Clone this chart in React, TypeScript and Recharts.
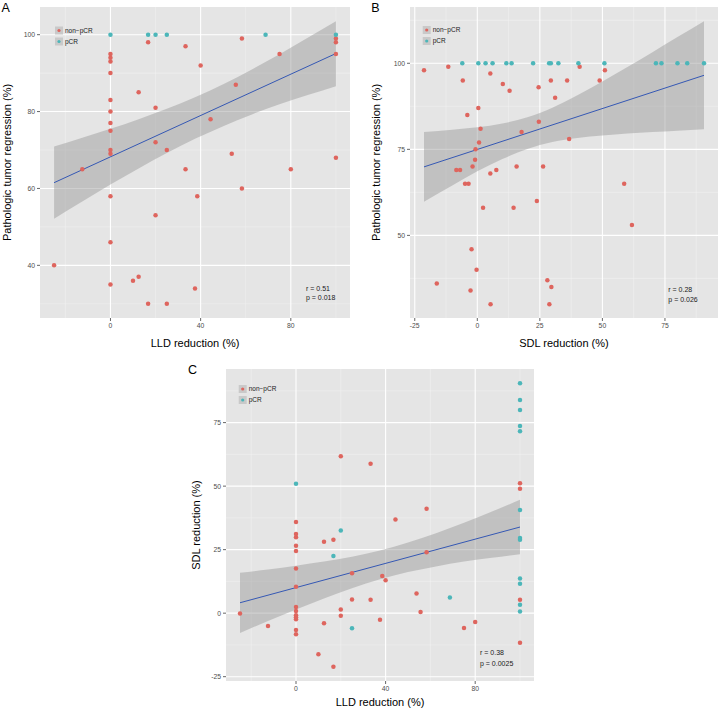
import React from 'react';
import { ComposedChart, XAxis, YAxis, CartesianGrid, Scatter, Line, Area, Customized } from 'recharts';

const FONT = '"Liberation Sans", Arial, Helvetica, sans-serif';
const RED = '#DE655E';
const TEAL = '#4CB6B9';
const BG = '#E5E5E5';

type Pt = { x: number; y: number };

// ---------- Panel A: LLD reduction vs pathologic tumor regression ----------
const aNonPCR: Pt[] = [
  { x: 16.7, y: 98 }, { x: 33.3, y: 97 }, { x: 58.3, y: 99 }, { x: 100, y: 99 }, { x: 100, y: 98 },
  { x: 75, y: 95 }, { x: 100, y: 95 },
  { x: 0, y: 95 }, { x: 0, y: 94 }, { x: 0, y: 93 }, { x: 0, y: 90 }, { x: 0, y: 83 }, { x: 0, y: 80 },
  { x: 0, y: 77 }, { x: 0, y: 75 }, { x: 0, y: 70 }, { x: 0, y: 69 },
  { x: 40, y: 92 }, { x: 12.5, y: 85 }, { x: 55.6, y: 87 }, { x: 20, y: 81 }, { x: 44.4, y: 78 },
  { x: 20, y: 72 }, { x: 25, y: 70 }, { x: 53.8, y: 69 }, { x: 100, y: 68 }, { x: -12.5, y: 65 },
  { x: 33.3, y: 65 }, { x: 80, y: 65 },
  { x: 58.3, y: 60 }, { x: 0, y: 58 }, { x: 38.5, y: 58 }, { x: 20, y: 53 }, { x: 0, y: 46 },
  { x: -25, y: 40 }, { x: 0, y: 35 }, { x: 10, y: 36 }, { x: 12.5, y: 37 }, { x: 37.5, y: 34 },
  { x: 16.7, y: 30 }, { x: 25, y: 30 },
];
const aPCR: Pt[] = [
  { x: 0, y: 100 }, { x: 16.7, y: 100 }, { x: 20, y: 100 }, { x: 25, y: 100 }, { x: 68.8, y: 100 }, { x: 100, y: 100 },
];
const aBandX = [-25, -12.5, 0, 12.5, 25, 37.5, 50, 62.5, 75, 87.5, 100];
const aBandLo = [52.1, 56.6, 61.0, 65.2, 69.2, 72.9, 76.2, 79.2, 81.9, 84.3, 86.6];
const aBandHi = [70.9, 73.2, 75.5, 78.0, 80.7, 83.7, 87.1, 90.9, 94.9, 99.2, 103.5];
const aFit: Pt[] = [{ x: -25, y: 61.5 }, { x: 100, y: 95.1 }];
const aXTicks = [0, 40, 80];
const aXMinor = [-20, 20, 60, 100];
const aYTicks = [40, 60, 80, 100];
const aYMinor = [30, 50, 70, 90];

// ---------- Panel B: SDL reduction vs pathologic tumor regression ----------
const bNonPCR: Pt[] = [
  { x: -21.3, y: 98 }, { x: -11.6, y: 99 }, { x: -5.8, y: 95 }, { x: 5.2, y: 97 }, { x: 10.2, y: 94 },
  { x: 12.9, y: 92 }, { x: -4, y: 85 }, { x: 0.4, y: 87 }, { x: 1.3, y: 81 }, { x: 0.7, y: 77 },
  { x: -0.7, y: 75 }, { x: -0.9, y: 72 }, { x: 17.7, y: 80 }, { x: 24.5, y: 93 }, { x: 24.6, y: 83 },
  { x: 29.4, y: 95 }, { x: 31.1, y: 90 }, { x: 35.9, y: 95 }, { x: 36.7, y: 78 }, { x: 40.9, y: 99 },
  { x: 51, y: 98 }, { x: 48.9, y: 95 }, { x: -8.4, y: 69 }, { x: -6.9, y: 69 }, { x: -1.9, y: 70 },
  { x: 5.2, y: 68 }, { x: 7.6, y: 69 }, { x: 15.7, y: 70 }, { x: 26.3, y: 70 }, { x: -4.9, y: 65 },
  { x: -3.5, y: 65 }, { x: 58.7, y: 65 }, { x: 23.8, y: 60 }, { x: 2.3, y: 58 }, { x: 14.5, y: 58 },
  { x: 61.8, y: 53 }, { x: -2.3, y: 46 }, { x: -0.3, y: 40 }, { x: -16.2, y: 36 }, { x: -2.7, y: 34 },
  { x: 28, y: 37 }, { x: 29.6, y: 35 }, { x: 5.3, y: 30 }, { x: 28.8, y: 30 },
];
const bPCR: Pt[] = [
  { x: -6, y: 100 }, { x: 0.4, y: 100 }, { x: 3.3, y: 100 }, { x: 6.1, y: 100 }, { x: 11.6, y: 100 },
  { x: 13.7, y: 100 }, { x: 22.3, y: 100 }, { x: 28.7, y: 100 }, { x: 29.4, y: 100 }, { x: 32.4, y: 100 },
  { x: 40.4, y: 100 }, { x: 50.8, y: 100 }, { x: 71.4, y: 100 }, { x: 73.6, y: 100 }, { x: 80, y: 100 },
  { x: 83.9, y: 100 }, { x: 90.6, y: 100 },
];
const bBandX = [-21.3, -10, 0, 10, 20, 30, 40, 50, 60, 70, 80, 90.6];
const bBandLo = [59.8, 64.5, 68.6, 72.2, 75.1, 77.1, 78.3, 79.0, 79.6, 80.0, 80.4, 80.8];
const bBandHi = [80.0, 80.7, 81.4, 82.5, 84.3, 87.1, 90.7, 94.7, 98.9, 103.2, 107.6, 112.2];
const bFit: Pt[] = [{ x: -21.3, y: 69.9 }, { x: 90.6, y: 96.5 }];
const bXTicks = [-25, 0, 25, 50, 75];
const bXMinor = [-12.5, 12.5, 37.5, 62.5, 87.5];
const bYTicks = [50, 75, 100];
const bYMinor = [37.5, 62.5, 87.5, 112.5];

// ---------- Panel C: LLD reduction vs SDL reduction ----------
const cNonPCR: Pt[] = [
  { x: 20, y: 61.8 }, { x: 33.3, y: 58.8 }, { x: 100, y: 51.1 }, { x: 100, y: 49.0 }, { x: 58.3, y: 41.1 },
  { x: 44.4, y: 36.9 }, { x: 0, y: 35.9 }, { x: 0, y: 31.2 }, { x: 0, y: 29.9 }, { x: 0, y: 26.5 },
  { x: 0, y: 24.5 }, { x: 0, y: 17.6 }, { x: 0, y: 10.4 }, { x: 0, y: 2.4 }, { x: 0, y: 0.9 },
  { x: 0, y: -0.8 }, { x: 0, y: -1.6 }, { x: 0, y: -2.4 }, { x: 0, y: -6.6 }, { x: 0, y: -8.3 },
  { x: 12.5, y: 28.1 }, { x: 16.7, y: 28.9 }, { x: 25, y: 15.7 }, { x: 38.5, y: 14.6 }, { x: 40, y: 13.0 },
  { x: 58.3, y: 24.0 }, { x: 25, y: 5.4 }, { x: 33.3, y: 5.3 }, { x: 20, y: 1.4 }, { x: 20, y: -1.0 },
  { x: 12.5, y: -4.0 }, { x: -12.5, y: -5.1 }, { x: -25, y: -0.1 }, { x: 37.5, y: -2.6 }, { x: 53.8, y: 7.7 },
  { x: 55.6, y: 0.5 }, { x: 75, y: -5.8 }, { x: 80, y: -3.5 }, { x: 10, y: -16.2 }, { x: 16.7, y: -21.1 },
  { x: 100, y: 5.3 }, { x: 100, y: -11.6 },
];
const cPCR: Pt[] = [
  { x: 100, y: 90.5 }, { x: 100, y: 83.9 }, { x: 100, y: 80.0 }, { x: 100, y: 73.7 }, { x: 100, y: 71.6 },
  { x: 100, y: 40.6 }, { x: 100, y: 29.6 }, { x: 100, y: 28.9 }, { x: 100, y: 13.6 }, { x: 100, y: 11.6 },
  { x: 100, y: 3.3 }, { x: 100, y: 0.7 }, { x: 0, y: 50.9 }, { x: 20, y: 32.5 }, { x: 16.7, y: 22.5 },
  { x: 68.7, y: 6.2 }, { x: 25, y: -5.9 },
];
const cBandX = [-25, -12.5, 0, 12.5, 25, 37.5, 50, 62.5, 75, 87.5, 100];
const cBandLo = [-7.8, -3.1, 1.4, 5.8, 9.8, 13.3, 16.2, 18.4, 20.3, 21.8, 23.2];
const cBandHi = [15.9, 17.2, 18.7, 20.3, 22.2, 24.7, 27.8, 31.5, 35.6, 40.0, 44.6];
const cFit: Pt[] = [{ x: -25, y: 4.1 }, { x: 100, y: 33.9 }];
const cXTicks = [0, 40, 80];
const cXMinor = [-20, 20, 60, 100];
const cYTicks = [-25, 0, 25, 50, 75];
const cYMinor = [-12.5, 12.5, 37.5, 62.5, 87.5];

const legendLabels = ['non−pCR', 'pCR'];

const buildBand = (xs: number[], lo: number[], hi: number[]) =>
  xs.map((x, i) => ({ x, range: [lo[i], hi[i]] }));

const Dot = (props: any) => {
  const { cx, cy, fill } = props;
  if (cx == null || cy == null) return null;
  return <circle cx={cx} cy={cy} r={2.25} fill={fill} />;
};

type OverlayProps = {
  letter: string;
  letterX: number;
  letterY: number;
  legX: number;
  legY: number;
  stats: string[];
  statX: number;
  statY: number;
  statGap: number;
};

const Overlay = (p: OverlayProps) => (
  <g>
    <text x={p.letterX} y={p.letterY} fontSize={12.5} fontFamily={FONT} fill="#000">{p.letter}</text>
    {legendLabels.map((lab, i) => {
      const cy = p.legY + i * 11;
      return (
        <g key={lab}>
          <rect x={p.legX - 4} y={cy - 4} width={8} height={8} fill="#C9C9C9" />
          <circle cx={p.legX} cy={cy} r={1.6} fill={i === 0 ? RED : TEAL} />
          <text x={p.legX + 6} y={cy + 2.3} fontSize={6.5} fontFamily={FONT} fill="#1A1A1A">{lab}</text>
        </g>
      );
    })}
    {p.stats.map((s, i) => (
      <text key={s} x={p.statX} y={p.statY + i * p.statGap} fontSize={7} fontFamily={FONT} fill="#1A1A1A">{s}</text>
    ))}
  </g>
);

type PanelProps = {
  left: number; top: number; width: number; height: number;
  margin: { top: number; right: number; bottom: number; left: number };
  yAxisWidth: number; xAxisHeight: number;
  xDomain: [number, number]; yDomain: [number, number];
  xTicks: number[]; xMinor: number[]; yTicks: number[]; yMinor: number[];
  non: Pt[]; pcr: Pt[]; band: { x: number; range: number[] }[]; fit: Pt[];
  xLabel: string; yLabel: string; xLabelOffset: number; yLabelOffset: number;
  overlay: OverlayProps;
};

const tickStyle = { fontSize: 6.8, fill: '#4D4D4D', fontFamily: FONT };

const Panel = (p: PanelProps) => (
  <div style={{ position: 'absolute', left: p.left, top: p.top, width: p.width, height: p.height }}>
    <ComposedChart width={p.width} height={p.height} margin={p.margin}>
      <CartesianGrid fill={BG} fillOpacity={1} stroke="#F2F2F2" strokeWidth={0.5}
        verticalValues={p.xMinor} horizontalValues={p.yMinor} />
      <CartesianGrid stroke="#FFFFFF" strokeWidth={1.1}
        verticalValues={p.xTicks} horizontalValues={p.yTicks} />
      <XAxis type="number" dataKey="x" domain={p.xDomain} ticks={p.xTicks} interval={0}
        allowDataOverflow height={p.xAxisHeight} axisLine={false}
        tickSize={3} tickMargin={2.5} tickLine={{ stroke: '#666' }} tick={tickStyle}
        label={{ value: p.xLabel, position: 'insideBottom', offset: p.xLabelOffset,
          style: { fontSize: 11, fill: '#000', fontFamily: FONT } }} />
      <YAxis type="number" dataKey="y" domain={p.yDomain} ticks={p.yTicks} interval={0}
        allowDataOverflow width={p.yAxisWidth} axisLine={false}
        tickSize={3} tickMargin={2} tickLine={{ stroke: '#666' }} tick={tickStyle}
        label={{ value: p.yLabel, angle: -90, position: 'insideLeft', offset: p.yLabelOffset,
          style: { fontSize: 11, fill: '#000', fontFamily: FONT, textAnchor: 'middle' } }} />
      <Area data={p.band} dataKey="range" type="monotone" stroke="none" fill="#999999"
        fillOpacity={0.47} isAnimationActive={false} />
      <Line data={p.fit} dataKey="y" type="linear" stroke="#3558B4" strokeWidth={1} dot={false}
        activeDot={false} isAnimationActive={false} />
      <Scatter data={p.non} fill={RED} shape={Dot} isAnimationActive={false} />
      <Scatter data={p.pcr} fill={TEAL} shape={Dot} isAnimationActive={false} />
      <Customized component={<Overlay {...p.overlay} />} />
    </ComposedChart>
  </div>
);

export default function App() {
  return (
    <div style={{ position: 'absolute', left: 0, top: 0, width: 720, height: 711, background: '#fff' }}>
      <Panel
        left={0} top={0} width={360} height={355}
        margin={{ top: 7, right: 10, bottom: 0, left: 0 }}
        yAxisWidth={40} xAxisHeight={37}
        xDomain={[-31.25, 106.25]} yDomain={[26.3, 107.2]}
        xTicks={aXTicks} xMinor={aXMinor} yTicks={aYTicks} yMinor={aYMinor}
        non={aNonPCR} pcr={aPCR} band={buildBand(aBandX, aBandLo, aBandHi)} fit={aFit}
        xLabel="LLD reduction (%)" yLabel="Pathologic tumor regression (%)"
        xLabelOffset={8.3} yLabelOffset={7.3}
        overlay={{ letter: 'A', letterX: 1.5, letterY: 11.7, legX: 59, legY: 30.5,
          stats: ['r = 0.51', 'p = 0.018'], statX: 306, statY: 290.8, statGap: 9.6 }}
      />
      <Panel
        left={360} top={0} width={360} height={355}
        margin={{ top: 7, right: 2, bottom: 0, left: 0 }}
        yAxisWidth={50} xAxisHeight={37}
        xDomain={[-26.9, 96.2]} yDomain={[26.0, 116.35]}
        xTicks={bXTicks} xMinor={bXMinor} yTicks={bYTicks} yMinor={bYMinor}
        non={bNonPCR} pcr={bPCR} band={buildBand(bBandX, bBandLo, bBandHi)} fit={bFit}
        xLabel="SDL reduction (%)" yLabel="Pathologic tumor regression (%)"
        xLabelOffset={8.3} yLabelOffset={15.7}
        overlay={{ letter: 'B', letterX: 11.3, letterY: 11.7, legX: 66.7, legY: 30,
          stats: ['r = 0.28', 'p = 0.026'], statX: 308.3, statY: 291.8, statGap: 10.5 }}
      />
      <Panel
        left={180} top={355} width={360} height={356}
        margin={{ top: 14, right: 6, bottom: 0, left: 0 }}
        yAxisWidth={46} xAxisHeight={30}
        xDomain={[-31.25, 106.25]} yDomain={[-26.7, 96.1]}
        xTicks={cXTicks} xMinor={cXMinor} yTicks={cYTicks} yMinor={cYMinor}
        non={cNonPCR} pcr={cPCR} band={buildBand(cBandX, cBandLo, cBandHi)} fit={cFit}
        xLabel="LLD reduction (%)" yLabel="SDL reduction (%)"
        xLabelOffset={5} yLabelOffset={15.7}
        overlay={{ letter: 'C', letterX: 8, letterY: 19, legX: 62.7, legY: 34,
          stats: ['r = 0.38', 'p = 0.0025'], statX: 300, statY: 299.8, statGap: 11 }}
      />
    </div>
  );
}
